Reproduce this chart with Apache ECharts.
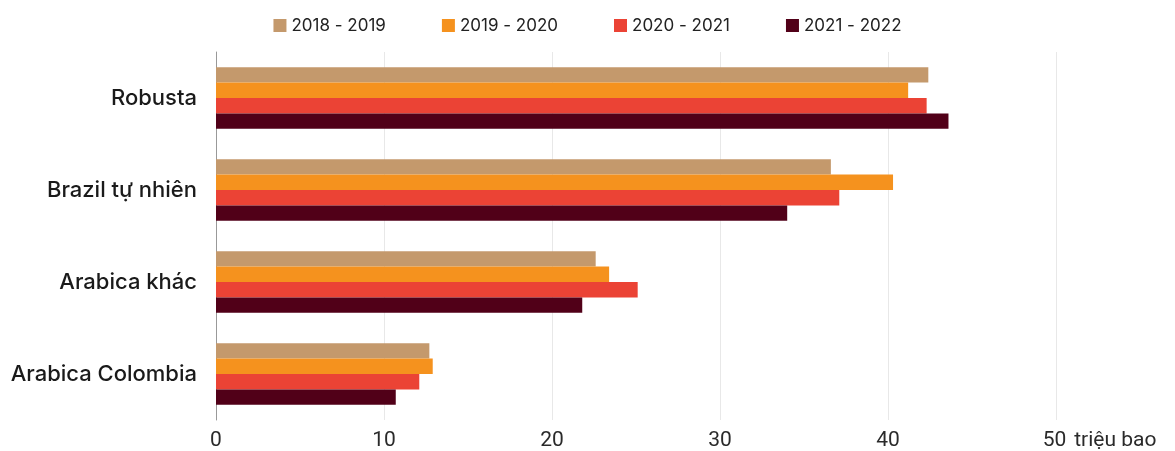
<!DOCTYPE html>
<html>
<head>
<meta charset="utf-8">
<script src="https://cdn.jsdelivr.net/npm/echarts@6/dist/echarts.min.js"></script>
<style>
  html, body { margin: 0; padding: 0; background: #fff; }
  #myChart { width: 1175px; height: 451px; }
</style>
</head>
<body>
<div id="myChart"></div>
<script>
// Loại cà phê (từ trên xuống)
var categories = ['Robusta', 'Brazil tự nhiên', 'Arabica khác', 'Arabica Colombia']
var seasons = ['2018 - 2019', '2019 - 2020', '2020 - 2021', '2021 - 2022']
// triệu bao
var v2018 = [42.4, 36.6, 22.6, 12.7]
var v2019 = [41.2, 40.3, 23.4, 12.9]
var v2020 = [42.3, 37.1, 25.1, 12.1]
var v2021 = [43.6, 34.0, 21.8, 10.7]
var xTicks = [0, 10, 20, 30, 40, 50]
var unitLabel = 'triệu bao'

var colors = ['#c4996c', '#f5921e', '#eb4335', '#510018']
var values = [v2018, v2019, v2020, v2021]

var myChart = echarts.init(document.getElementById('myChart'))

myChart.setOption({
  backgroundColor: '#fff',
  color: colors,
  animation: false,
  textStyle: { fontFamily: 'Inter, Roboto, sans-serif' },
  legend: {
    top: 12,
    left: 'center',
    itemWidth: 13,
    itemHeight: 13,
    itemGap: 56,
    icon: 'rect',
    textStyle: { fontSize: 17, color: '#222', fontFamily: 'Inter, Roboto, sans-serif' },
    data: seasons
  },
  grid: { left: 216, right: 119, top: 52, bottom: 31 },
  xAxis: {
    type: 'value',
    min: xTicks[0],
    max: xTicks[xTicks.length - 1],
    interval: 10,
    axisLine: { show: false },
    axisTick: { show: false },
    splitLine: { show: true, lineStyle: { color: '#e8e8e8', width: 1 } },
    axisLabel: {
      margin: 10,
      fontSize: 21,
      color: '#2a2a2a',
      fontFamily: 'Roboto, sans-serif',
      formatter: function (v) {
        if (v === xTicks[xTicks.length - 1]) return '{pad|}{n|' + v + '}{u|' + unitLabel + '}'
        return '{n|' + v + '}'
      },
      rich: {
        n: { fontSize: 21, color: '#2a2a2a', fontFamily: 'Roboto, sans-serif' },
        pad: { width: 92 },
        u: { fontSize: 21, color: '#2a2a2a', fontFamily: 'Roboto, sans-serif', width: 92, align: 'left', padding: [0, 0, 0, 3] }
      }
    }
  },
  yAxis: {
    type: 'category',
    inverse: true,
    data: categories,
    axisLine: { show: true, lineStyle: { color: '#999', width: 1 } },
    axisTick: { show: false },
    axisLabel: { margin: 19, fontSize: 22, fontWeight: 500, color: '#1a1a1a', fontFamily: 'Inter, Roboto, sans-serif' }
  },
  series: seasons.map(function (name, i) {
    return {
      name: name,
      type: 'bar',
      barGap: '0%',
      barCategoryGap: '33%',
      itemStyle: { color: colors[i] },
      data: values[i]
    }
  })
})
</script>
</body>
</html>
